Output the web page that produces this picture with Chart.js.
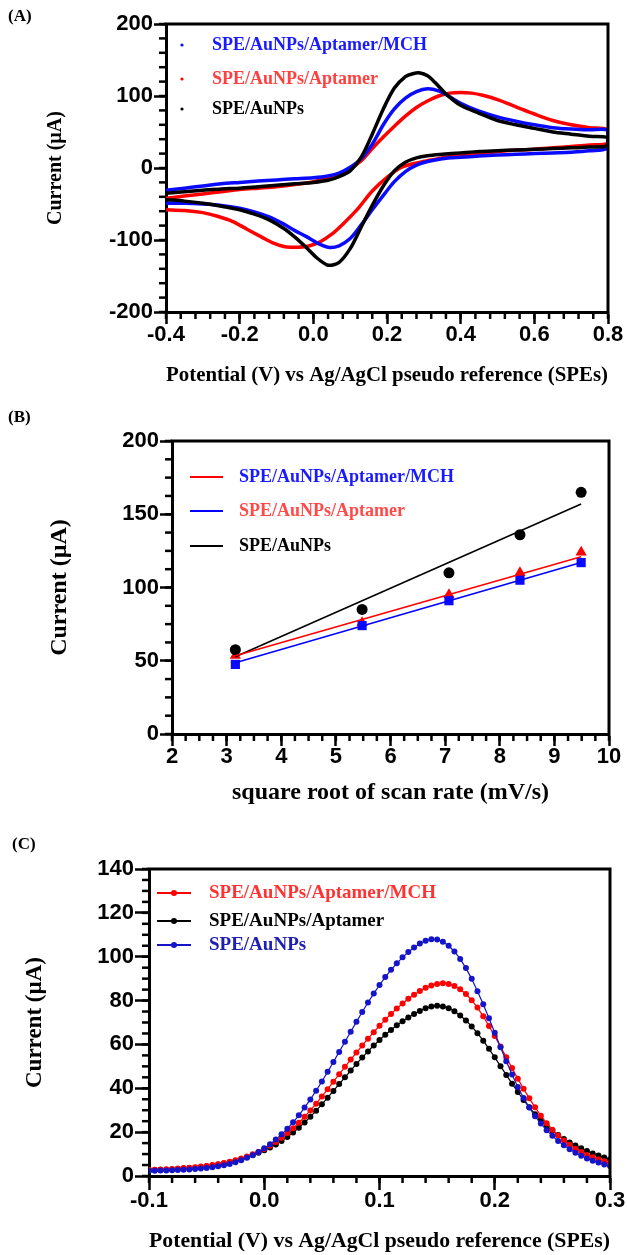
<!DOCTYPE html>
<html>
<head>
<meta charset="utf-8">
<script src="https://cdn.jsdelivr.net/npm/chart.js@4.4.1/dist/chart.umd.min.js"></script>
<style>
  body { margin: 0; background: #fff; }
  #wrap { position: relative; width: 627px; height: 1255px; }
  canvas { position: absolute; left: 0; }
  .tag { position: absolute; font: bold 17px "Liberation Serif"; color: #000; }
</style>
</head>
<body>
<div id="wrap">
  <canvas id="cv" width="627" height="395" style="top:0"></canvas>
  <canvas id="rate" width="627" height="420" style="top:395px"></canvas>
  <canvas id="dpv" width="627" height="440" style="top:815px"></canvas>
  <div class="tag" style="left:8px;top:6px">(A)</div>
  <div class="tag" style="left:8px;top:407px">(B)</div>
  <div class="tag" style="left:12px;top:834px">(C)</div>
</div>
<script>
// ---------- (A) cyclic voltammograms: forward sweep then reverse sweep ----------
const cvNames = ['SPE/AuNPs/Aptamer/MCH', 'SPE/AuNPs/Aptamer', 'SPE/AuNPs'];

const cvMchV = [-0.40,-0.35,-0.30,-0.25,-0.20,-0.15,-0.10,-0.05,0.00,0.04,0.07,0.10,0.13,0.16,0.19,0.22,0.25,0.28,0.31,0.34,0.37,0.40,0.45,0.50,0.55,0.60,0.65,0.70,0.75,0.80,
                0.80,0.75,0.70,0.65,0.60,0.55,0.50,0.45,0.40,0.35,0.31,0.28,0.25,0.22,0.19,0.16,0.13,0.10,0.07,0.04,0.01,-0.02,-0.05,-0.08,-0.12,-0.16,-0.20,-0.25,-0.30,-0.35,-0.40];
const cvMchI = [-31,-28,-25,-22,-20,-18,-16.5,-15,-13.5,-11,-7,1,13,33,60,82,97,106,110,107,99,90,79,71,65,60,56,54,53,52,
                28,24,22,21,20,19,18,16.5,15,13,9,4,-5,-19,-38,-58,-79,-98,-108,-110,-104,-95,-87,-78,-68,-61,-56,-52,-50,-49,-49];

const cvAptV = [-0.40,-0.35,-0.30,-0.25,-0.20,-0.15,-0.10,-0.05,0.00,0.04,0.07,0.10,0.13,0.16,0.19,0.22,0.25,0.28,0.31,0.34,0.37,0.40,0.43,0.46,0.50,0.55,0.60,0.65,0.70,0.75,0.80,
                0.80,0.75,0.70,0.65,0.60,0.55,0.50,0.45,0.40,0.36,0.32,0.28,0.24,0.20,0.16,0.12,0.08,0.05,0.02,-0.01,-0.04,-0.06,-0.08,-0.11,-0.14,-0.18,-0.22,-0.26,-0.30,-0.35,-0.40];
const cvAptI = [-42,-39,-36,-33,-30,-28,-26,-23,-19,-14,-8,-1,10,27,43,58,72,84,93,100,104,105,104,101,95,85,75,66,60,56,53,
                35,32,30,28,26,25,23,20,18,15,11,7,1,-13,-32,-57,-78,-92,-102,-108,-110,-110,-109,-104,-96,-85,-74,-67,-62,-59,-58];

const cvAuV = [-0.40,-0.35,-0.30,-0.25,-0.20,-0.15,-0.10,-0.05,0.00,0.04,0.07,0.10,0.13,0.16,0.19,0.22,0.25,0.27,0.29,0.31,0.33,0.36,0.40,0.45,0.50,0.55,0.60,0.65,0.70,0.75,0.80,
               0.80,0.75,0.70,0.65,0.60,0.55,0.50,0.45,0.40,0.35,0.31,0.28,0.25,0.22,0.19,0.16,0.13,0.10,0.07,0.04,0.01,-0.02,-0.05,-0.08,-0.12,-0.16,-0.20,-0.25,-0.30,-0.35,-0.40];
const cvAuI = [-35,-33,-31,-29,-28,-26,-24,-22,-20,-17,-12,-4,15,47,82,111,127,131,132,128,119,103,87,76,66,60,55,50,47,44,42,
               31,29,28,27,26,25,24,23,21,19,17,14,8,-4,-25,-52,-82,-112,-131,-135,-125,-110,-96,-84,-72,-64,-58,-53,-49,-46,-44];

// ---------- (B) peak current vs square root of scan rate ----------
const rateNames = ['SPE/AuNPs/Aptamer/MCH', 'SPE/AuNPs/Aptamer', 'SPE/AuNPs'];
const rateX = [3.16, 5.48, 7.07, 8.37, 9.49];
const rateTri = [53.5, 76, 95, 110, 124];     // red triangles
const rateSq = [47.5, 74, 91, 105, 117];      // blue squares
const rateDot = [57.5, 85, 110, 136, 165];    // black circles
const fitX = [3.16, 9.49];
const fitRed = [53.4, 121];
const fitBlue = [48.6, 117];
const fitBlack = [52.7, 157];

// ---------- (C) differential pulse voltammograms ----------
const dpvNames = ['SPE/AuNPs/Aptamer/MCH', 'SPE/AuNPs/Aptamer', 'SPE/AuNPs'];
const dpvV = [-0.100,-0.095,-0.090,-0.085,-0.080,-0.075,-0.070,-0.065,-0.060,-0.055,-0.050,-0.045,-0.040,-0.035,-0.030,-0.025,-0.020,-0.015,-0.010,-0.005,
              0.000,0.005,0.010,0.015,0.020,0.025,0.030,0.035,0.040,0.045,0.050,0.055,0.060,0.065,0.070,0.075,0.080,0.085,0.090,0.095,
              0.100,0.105,0.110,0.115,0.120,0.125,0.130,0.135,0.140,0.145,0.150,0.155,0.160,0.165,0.170,0.175,0.180,0.185,0.190,0.195,
              0.200,0.205,0.210,0.215,0.220,0.225,0.230,0.235,0.240,0.245,0.250,0.255,0.260,0.265,0.270,0.275,0.280,0.285,0.290,0.295,0.300];
const dpvMch = [2.8,2.9,3.0,3.1,3.2,3.4,3.6,3.8,4.0,4.3,4.6,5.0,5.4,5.9,6.5,7.2,8.0,8.9,9.9,11.0,
                12.3,13.8,15.5,17.4,19.5,21.8,24.3,27.0,29.9,33.0,36.2,39.6,43.0,46.4,49.8,53.1,56.3,59.5,62.6,65.6,
                68.5,71.3,73.9,76.4,78.7,80.8,82.7,84.4,85.8,86.9,87.6,87.9,87.6,86.7,85.2,83.0,80.2,76.8,72.8,68.4,
                63.8,59.0,54.1,49.2,44.4,39.8,35.4,31.3,27.5,24.1,21.1,18.5,16.2,14.2,12.4,10.9,9.6,8.5,7.5,6.7,6.0];
const dpvApt = [2.6,2.7,2.8,2.9,3.0,3.2,3.4,3.6,3.8,4.1,4.4,4.8,5.2,5.7,6.3,7.0,7.8,8.7,9.6,10.6,
                11.7,13.0,14.4,16.0,17.8,19.8,22.0,24.4,27.0,29.8,32.7,35.7,38.8,41.9,45.0,48.1,51.1,54.0,56.8,59.5,
                62.0,64.4,66.6,68.7,70.6,72.3,73.9,75.3,76.5,77.3,77.6,77.3,76.5,75.1,73.2,70.9,68.2,65.1,61.7,58.0,
                54.1,50.1,46.1,42.1,38.3,34.7,31.3,28.2,25.4,22.9,20.7,18.7,16.9,15.3,13.9,12.6,11.4,10.3,9.3,8.4,7.6];
const dpvAu = [2.4,2.4,2.5,2.5,2.6,2.7,2.8,3.0,3.2,3.4,3.7,4.0,4.4,4.9,5.5,6.3,7.2,8.3,9.5,11.0,
               12.6,14.5,16.6,19.0,21.6,24.5,27.7,31.2,34.9,38.9,43.1,47.5,52.0,56.6,61.2,65.8,70.3,74.8,79.1,83.2,
               87.1,90.7,94.0,97.0,99.7,102.1,104.2,106.0,107.3,108.0,107.8,106.8,105.0,102.4,99.0,94.8,89.9,84.3,78.3,71.9,
               65.3,58.7,52.3,46.3,40.6,35.6,31.2,27.3,23.9,20.9,18.3,16.0,14.0,12.2,10.6,9.2,8.0,7.0,6.1,5.3,4.6];

// ---------- helpers ----------
const pts = (xs, ys) => xs.map((x, i) => ({ x: x, y: ys[i] }));
const tickFont = { family: 'Liberation Sans', size: 22, weight: 'bold', lineHeight: 1 };
const serif = size => ({ family: 'Liberation Serif', size: size, weight: 'bold' });
const oneDecimal = v => (Math.abs(v) < 1e-9 ? '0.0' : Number(v).toFixed(1));

// linear axis with fixed box size so the plot area lands where the figure has it
function axis(o) {
  return {
    type: 'linear',
    min: o.min, max: o.max,
    border: { display: true, color: '#000', width: 3 },
    grid: { drawOnChartArea: false, tickColor: '#000', tickLength: o.tick, tickWidth: 2.5 },
    ticks: { stepSize: o.step, autoSkip: false, maxRotation: 0, font: tickFont, color: '#000', padding: o.pad, callback: o.fmt || (v => v) },
    title: { display: true, text: o.title, font: serif(o.titleSize), color: '#000', padding: o.titlePad },
    afterFit(scale) {
      if (scale.isHorizontal()) { scale.height = o.box; scale.paddingLeft = 0; scale.paddingRight = 0; }
      else { scale.width = o.box; scale.paddingTop = 0; scale.paddingBottom = 0; }
    }
  };
}

// top/right frame and the short minor ticks
const framePlugin = {
  id: 'frame',
  afterDraw(chart, args, opts) {
    const { ctx, chartArea: a, scales } = chart;
    ctx.save();
    ctx.strokeStyle = '#000';
    ctx.lineWidth = 3;
    ctx.beginPath();
    ctx.moveTo(a.left - 1.5, a.top);
    ctx.lineTo(a.right, a.top);
    ctx.lineTo(a.right, a.bottom + 1.5);
    ctx.stroke();
    ctx.lineWidth = 2.5;
    const sx = scales.x, sy = scales.y;
    const nx = Math.round((sx.max - sx.min) / opts.xMinor);
    for (let i = 0; i <= nx; i++) {
      const px = sx.getPixelForValue(sx.min + i * opts.xMinor);
      ctx.beginPath(); ctx.moveTo(px, a.bottom); ctx.lineTo(px, a.bottom + opts.len); ctx.stroke();
    }
    const ny = Math.round((sy.max - sy.min) / opts.yMinor);
    for (let i = 0; i <= ny; i++) {
      const py = sy.getPixelForValue(sy.min + i * opts.yMinor);
      ctx.beginPath(); ctx.moveTo(a.left, py); ctx.lineTo(a.left - opts.len, py); ctx.stroke();
    }
    ctx.restore();
  }
};

// legend drawn inside the plot area, one row per entry
const keyPlugin = {
  id: 'key',
  afterDatasetsDraw(chart, args, opts) {
    const { ctx, chartArea: a } = chart;
    ctx.save();
    ctx.font = 'bold ' + opts.size + 'px "Liberation Serif"';
    ctx.textBaseline = 'middle';
    opts.items.forEach((it, i) => {
      const ds = chart.data.datasets[it.ds];
      const y = a.top + opts.rows[i];
      const colour = ds.borderColor || ds.backgroundColor;
      const x0 = a.left + opts.mark[0], x1 = a.left + opts.mark[1];
      if (opts.kind !== 'dot') {
        ctx.strokeStyle = colour; ctx.lineWidth = opts.lineWidth;
        ctx.beginPath(); ctx.moveTo(x0, y); ctx.lineTo(x1, y); ctx.stroke();
      }
      if (opts.kind !== 'line') {
        ctx.fillStyle = ds.pointBackgroundColor || colour;
        ctx.beginPath(); ctx.arc((x0 + x1) / 2, y, opts.dot, 0, Math.PI * 2); ctx.fill();
      }
      ctx.fillStyle = it.color;
      ctx.fillText(ds.label, a.left + opts.text, y);
    });
    ctx.restore();
  }
};

const base = {
  type: 'scatter',
  options: { responsive: false, animation: false, devicePixelRatio: 1 },
  plugins: [framePlugin, keyPlugin]
};

// ---------- chart A ----------
const cvLine = { showLine: true, pointRadius: 0, borderWidth: 3.5, tension: 0.3, fill: false };
new Chart(document.getElementById('cv'), {
  ...base,
  data: {
    datasets: [
      { ...cvLine, label: cvNames[0], data: pts(cvMchV, cvMchI), borderColor: '#0a0aff', order: 1 },
      { ...cvLine, label: cvNames[1], data: pts(cvAptV, cvAptI), borderColor: '#ff0000', order: 2 },
      { ...cvLine, label: cvNames[2], data: pts(cvAuV, cvAuI), borderColor: '#000000', order: 0 }
    ]
  },
  options: {
    ...base.options,
    layout: { padding: { left: 44, right: 19, top: 24, bottom: 0 } },
    scales: {
      x: axis({ min: -0.4, max: 0.8, step: 0.2, tick: 12, pad: 0, fmt: oneDecimal, box: 83,
                title: 'Potential (V) vs Ag/AgCl pseudo reference (SPEs)', titleSize: 21, titlePad: { top: 0, bottom: 7 } }),
      y: axis({ min: -200, max: 200, step: 100, tick: 12, pad: 1, box: 122,
                title: 'Current (\u00b5A)', titleSize: 20, titlePad: { top: 0, bottom: 0 } })
    },
    plugins: {
      legend: { display: false }, tooltip: { enabled: false },
      frame: { xMinor: 0.04, yMinor: 20, len: 7 },
      key: { kind: 'dot', size: 18, rows: [21, 55, 85], mark: [14, 18], text: 46, dot: 1.6, lineWidth: 0,
             items: [{ ds: 0, color: '#1a1aff' }, { ds: 1, color: '#ff4040' }, { ds: 2, color: '#000' }] }
    }
  }
});

// ---------- chart B ----------
const fitLine = { showLine: true, pointRadius: 0, borderWidth: 1.6, tension: 0, order: 0 };
new Chart(document.getElementById('rate'), {
  ...base,
  data: {
    datasets: [
      { ...fitLine, label: rateNames[0], data: pts(fitX, fitRed), borderColor: '#ff0000' },
      { ...fitLine, label: rateNames[1], data: pts(fitX, fitBlue), borderColor: '#0000ff' },
      { ...fitLine, label: rateNames[2], data: pts(fitX, fitBlack), borderColor: '#000000' },
      { data: pts(rateX, rateTri), pointStyle: 'triangle', pointRadius: 6.5, backgroundColor: '#ff0000', borderWidth: 0, order: 3 },
      { data: pts(rateX, rateSq), pointStyle: 'rect', pointRadius: 6.5, backgroundColor: '#0a0aff', borderWidth: 0, order: 2 },
      { data: pts(rateX, rateDot), pointStyle: 'circle', pointRadius: 5.5, backgroundColor: '#000000', borderWidth: 0, order: 1 }
    ]
  },
  options: {
    ...base.options,
    layout: { padding: { left: 45, right: 18, top: 46, bottom: 0 } },
    scales: {
      x: axis({ min: 2, max: 10, step: 1, tick: 12, pad: 0, box: 81,
                title: 'square root of scan rate (mV/s)', titleSize: 24, titlePad: { top: 0, bottom: 8 } }),
      y: axis({ min: 0, max: 200, step: 50, tick: 12, pad: 1, box: 127,
                title: 'Current (\u00b5A)', titleSize: 24, titlePad: { top: 0, bottom: 0 } })
    },
    plugins: {
      legend: { display: false }, tooltip: { enabled: false },
      frame: { xMinor: 0.25, yMinor: 12.5, len: 7 },
      key: { kind: 'line', size: 18, rows: [36, 70, 105], mark: [18, 51], text: 67, dot: 0, lineWidth: 2,
             items: [{ ds: 0, color: '#1a1aff' }, { ds: 1, color: '#ff4a4a' }, { ds: 2, color: '#000' }] }
    }
  }
});

// ---------- chart C ----------
const dpvLine = { showLine: true, pointRadius: 3, pointBorderWidth: 0, borderWidth: 1.2, tension: 0 };
new Chart(document.getElementById('dpv'), {
  ...base,
  data: {
    datasets: [
      { ...dpvLine, label: dpvNames[0], data: pts(dpvV, dpvMch), borderColor: '#ff0000', pointBackgroundColor: '#ff0000', order: 1 },
      { ...dpvLine, label: dpvNames[1], data: pts(dpvV, dpvApt), borderColor: '#000000', pointBackgroundColor: '#000000', order: 2 },
      { ...dpvLine, label: dpvNames[2], data: pts(dpvV, dpvAu), borderColor: '#1414c8', pointBackgroundColor: '#1414c8', order: 0 }
    ]
  },
  options: {
    ...base.options,
    layout: { padding: { left: 21, right: 17, top: 54, bottom: 0 } },
    scales: {
      x: axis({ min: -0.1, max: 0.3, step: 0.1, tick: 14, pad: 0, fmt: oneDecimal, box: 79,
                title: 'Potential (V) vs Ag/AgCl pseudo reference (SPEs)', titleSize: 22, titlePad: { top: 0, bottom: 0 } }),
      y: axis({ min: 0, max: 140, step: 20, tick: 14, pad: 1, box: 128,
                title: 'Current (\u00b5A)', titleSize: 23, titlePad: { top: 0, bottom: 0 } })
    },
    plugins: {
      legend: { display: false }, tooltip: { enabled: false },
      frame: { xMinor: 0.02, yMinor: 5, len: 7 },
      key: { kind: 'linedot', size: 19, rows: [24, 52, 76], mark: [8, 42], text: 60, dot: 3, lineWidth: 2,
             items: [{ ds: 0, color: '#ff3333' }, { ds: 1, color: '#000' }, { ds: 2, color: '#2020b0' }] }
    }
  }
});
</script>
</body>
</html>
